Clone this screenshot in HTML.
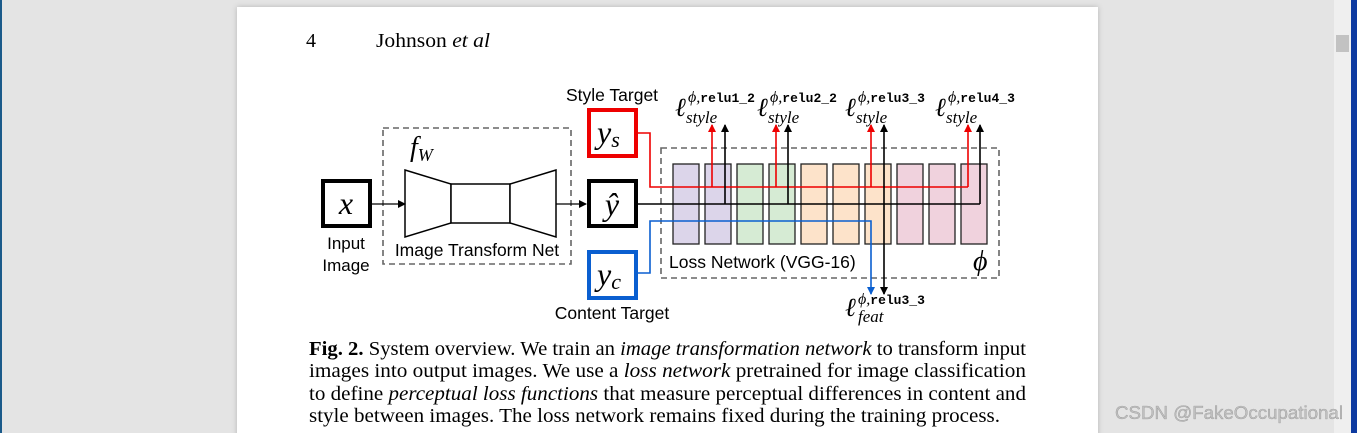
<!DOCTYPE html>
<html><head><meta charset="utf-8"><style>
html,body{margin:0;padding:0;width:1357px;height:433px;overflow:hidden;background:#e4e4e4;}
svg{display:block;}
.s{font-family:"Liberation Serif",serif;}
.a{font-family:"Liberation Sans",sans-serif;}
.m{font-family:"Liberation Mono",monospace;font-weight:bold;}
</style></head><body>
<svg width="1357" height="433" viewBox="0 0 1357 433" xmlns="http://www.w3.org/2000/svg">
<defs>
<marker id="ak" markerWidth="8" markerHeight="8" refX="7" refY="4" orient="auto" markerUnits="userSpaceOnUse"><path d="M0,0 L8,4 L0,8 z" fill="#000"/></marker>
<marker id="ar" markerWidth="8" markerHeight="8" refX="7" refY="4" orient="auto" markerUnits="userSpaceOnUse"><path d="M0,0 L8,4 L0,8 z" fill="#e00"/></marker>
<marker id="ab" markerWidth="8" markerHeight="8" refX="7" refY="4" orient="auto" markerUnits="userSpaceOnUse"><path d="M0,0 L8,4 L0,8 z" fill="#0a5fd0"/></marker>
<filter id="sh" x="-5%" y="-5%" width="110%" height="110%"><feDropShadow dx="0" dy="0" stdDeviation="3" flood-color="#000" flood-opacity="0.2"/></filter>
</defs>
<rect x="0" y="0" width="2" height="433" fill="#1a5a8a"/>
<rect x="1334" y="0" width="17" height="433" fill="#efefef"/>
<rect x="1336" y="35" width="13" height="17" fill="#c2c2c2"/>
<rect x="1351" y="0" width="6" height="433" fill="#0d3aa0"/>
<rect x="237" y="7" width="861" height="440" fill="#fff" filter="url(#sh)"/>

<text x="306" y="47" class="s" font-size="20">4</text>
<text x="376" y="47" class="s" font-size="20" textLength="114" lengthAdjust="spacingAndGlyphs">Johnson <tspan font-style="italic">et al</tspan></text>

<!-- input -->
<rect x="323" y="181" width="47" height="45" fill="#fff" stroke="#000" stroke-width="4"/>
<text x="346" y="214" class="s" font-style="italic" font-size="32" text-anchor="middle">x</text>
<text x="346" y="249" class="a" font-size="17" text-anchor="middle">Input</text>
<text x="346" y="271" class="a" font-size="17" text-anchor="middle">Image</text>

<!-- transform net -->
<rect x="383" y="128" width="188" height="136" fill="none" stroke="#666" stroke-width="1.6" stroke-dasharray="6,4"/>
<text x="410" y="156" class="s" font-style="italic" font-size="28">f<tspan font-size="18" dy="5">W</tspan></text>
<path d="M405,170 L451,184 L451,223 L405,237 Z" fill="#fff" stroke="#000" stroke-width="1.5"/>
<rect x="451" y="184" width="59" height="39" fill="#fff" stroke="#000" stroke-width="1.5"/>
<path d="M556,170 L510,184 L510,223 L556,237 Z" fill="#fff" stroke="#000" stroke-width="1.5"/>
<text x="477" y="256" class="a" font-size="17.5" text-anchor="middle">Image Transform Net</text>
<line x1="372" y1="204" x2="405" y2="204" stroke="#000" stroke-width="1.3" marker-end="url(#ak)"/>
<line x1="556" y1="204" x2="586" y2="204" stroke="#000" stroke-width="1.3" marker-end="url(#ak)"/>

<!-- loss network box -->
<rect x="661" y="148" width="338" height="130" fill="none" stroke="#666" stroke-width="1.6" stroke-dasharray="6,4"/>
<g stroke="#222" stroke-width="1.3">
<rect x="673" y="164" width="26" height="80" fill="#dcd5ea"/>
<rect x="705" y="164" width="26" height="80" fill="#dcd5ea"/>
<rect x="737" y="164" width="26" height="80" fill="#d6ebd4"/>
<rect x="769" y="164" width="26" height="80" fill="#d6ebd4"/>
<rect x="801" y="164" width="26" height="80" fill="#fde3ca"/>
<rect x="833" y="164" width="26" height="80" fill="#fde3ca"/>
<rect x="865" y="164" width="26" height="80" fill="#fde3ca"/>
<rect x="897" y="164" width="26" height="80" fill="#f0d2dd"/>
<rect x="929" y="164" width="26" height="80" fill="#f0d2dd"/>
<rect x="961" y="164" width="26" height="80" fill="#f0d2dd"/>
</g>
<text x="669" y="268" class="a" font-size="17.5">Loss Network (VGG-16)</text>
<text x="973" y="270" class="s" font-style="italic" font-size="28">ϕ</text>

<!-- lines -->
<polyline points="638,133 650,133 650,187 968,187" fill="none" stroke="#e00" stroke-width="1.6"/>
<g stroke="#e00" stroke-width="1.6">
<line x1="712" y1="187" x2="712" y2="125" marker-end="url(#ar)"/>
<line x1="776" y1="187" x2="776" y2="125" marker-end="url(#ar)"/>
<line x1="871" y1="187" x2="871" y2="125" marker-end="url(#ar)"/>
<line x1="968" y1="187" x2="968" y2="125" marker-end="url(#ar)"/>
</g>
<polyline points="638,204 980,204" fill="none" stroke="#000" stroke-width="1.6"/>
<g stroke="#000" stroke-width="1.6">
<line x1="725" y1="204" x2="725" y2="125" marker-end="url(#ak)"/>
<line x1="788" y1="204" x2="788" y2="125" marker-end="url(#ak)"/>
<line x1="980" y1="204" x2="980" y2="125" marker-end="url(#ak)"/>
<line x1="884" y1="200" x2="884" y2="125" marker-end="url(#ak)"/>
<line x1="884" y1="200" x2="884" y2="294" marker-end="url(#ak)"/>
</g>
<polyline points="638,273 650,273 650,221 871,221 871,294" fill="none" stroke="#0a5fd0" stroke-width="1.6" marker-end="url(#ab)"/>

<!-- targets -->
<text x="612" y="101" class="a" font-size="17.5" text-anchor="middle">Style Target</text>
<rect x="589" y="110" width="47" height="46" fill="#fff" stroke="#e00" stroke-width="4"/>
<text x="597" y="143" class="s" font-style="italic" font-size="32">y<tspan font-size="22" dy="4">s</tspan></text>
<rect x="589" y="181" width="47" height="45" fill="#fff" stroke="#000" stroke-width="4"/>
<text x="612" y="215" class="s" font-style="italic" font-size="32" text-anchor="middle">ŷ</text>
<rect x="589" y="252" width="47" height="46" fill="#fff" stroke="#0a5fd0" stroke-width="4"/>
<text x="597" y="285" class="s" font-style="italic" font-size="32">y<tspan font-size="22" dy="4">c</tspan></text>
<text x="612" y="319" class="a" font-size="17.5" text-anchor="middle">Content Target</text>

<!-- loss labels -->
<g class="s" font-style="italic">
<text x="675" y="116" font-size="26">ℓ</text><text x="688" y="102" font-size="16">ϕ,<tspan class="m" font-style="normal" font-size="13">relu1_2</tspan></text><text x="686" y="123" font-size="17">style</text>
<text x="757" y="116" font-size="26">ℓ</text><text x="770" y="102" font-size="16">ϕ,<tspan class="m" font-style="normal" font-size="13">relu2_2</tspan></text><text x="768" y="123" font-size="17">style</text>
<text x="845" y="116" font-size="26">ℓ</text><text x="858" y="102" font-size="16">ϕ,<tspan class="m" font-style="normal" font-size="13">relu3_3</tspan></text><text x="856" y="123" font-size="17">style</text>
<text x="935" y="116" font-size="26">ℓ</text><text x="948" y="102" font-size="16">ϕ,<tspan class="m" font-style="normal" font-size="13">relu4_3</tspan></text><text x="946" y="123" font-size="17">style</text>
<text x="845" y="316" font-size="26">ℓ</text><text x="858" y="304" font-size="16">ϕ,<tspan class="m" font-style="normal" font-size="13">relu3_3</tspan></text><text x="858" y="322" font-size="17">feat</text>
</g>

<!-- caption -->
<g class="s" font-size="19.5">
<text x="309" y="355" textLength="717" lengthAdjust="spacingAndGlyphs"><tspan font-weight="bold">Fig. 2.</tspan> System overview. We train an <tspan font-style="italic">image transformation network</tspan> to transform input</text>
<text x="309" y="377" textLength="717" lengthAdjust="spacingAndGlyphs">images into output images. We use a <tspan font-style="italic">loss network</tspan> pretrained for image classification</text>
<text x="309" y="400" textLength="717" lengthAdjust="spacingAndGlyphs">to define <tspan font-style="italic">perceptual loss functions</tspan> that measure perceptual differences in content and</text>
<text x="309" y="422" textLength="691" lengthAdjust="spacingAndGlyphs">style between images. The loss network remains fixed during the training process.</text>
</g>
<text x="1115" y="419" class="a" font-size="18.5" fill="#c0c0c0" stroke="#8a8a8a" stroke-width="0.3" textLength="228" lengthAdjust="spacingAndGlyphs">CSDN @FakeOccupational</text>
</svg>
</body></html>
